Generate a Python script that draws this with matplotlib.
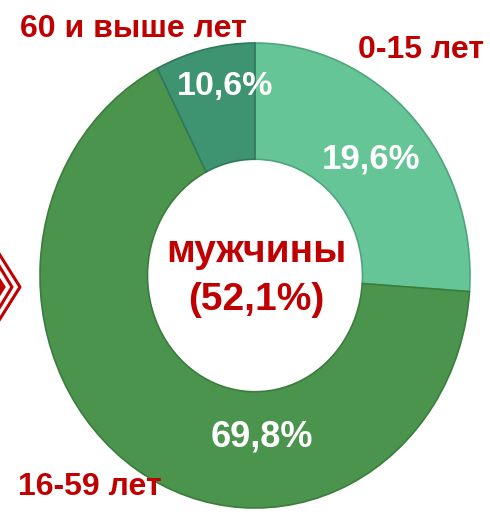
import matplotlib
matplotlib.use("Agg")
import matplotlib.pyplot as plt
from matplotlib.lines import Line2D
from matplotlib.patches import Polygon

plt.rcParams['font.family'] = ['Liberation Sans', 'DejaVu Sans']

# Data
groups = ["0-15 лет", "16-59 лет", "60 и выше лет"]
pct_labels = ["19,6%", "69,8%", "10,6%"]
# sector shares as drawn in the reference picture (angles measured)
drawn_shares = [26.1, 66.4, 7.5]
center_title = "мужчины"
center_value = "(52,1%)"

colors = ["#66C597", "#4B944D", "#3E9470"]
edge_colors = ["#4FA57C", "#3C7C3E", "#2F7A5B"]
red = "#C00000"

W, H = 490, 519
fig = plt.figure(figsize=(W / 100, H / 100), dpi=100)

def fx(px):
    return px / W

def fy(py):
    return 1 - py / H

# donut axes: outer ellipse x 40..470, y 43..508 (pixels)
ax = fig.add_axes([fx(40), fy(508), 430 / W, 465 / H])
wedges, _ = ax.pie(drawn_shares, colors=colors, startangle=90, counterclock=False,
                   radius=1.0, wedgeprops=dict(width=0.5, linewidth=1.2))
for w, ec in zip(wedges, edge_colors):
    w.set_edgecolor(ec)
ax.set_aspect('auto')
ax.set_xlim(-1, 1)
ax.set_ylim(-1, 1)
ax.axis('off')

# percentage labels (white, bold) in data coords of the donut axes
pct_pos = [(0.54, 0.50), (0.03, -0.695), (-0.14, 0.815)]
pct_sizes = [25, 26, 24.5]
for lab, (x, y), s in zip(pct_labels, pct_pos, pct_sizes):
    ax.text(x, y, lab, ha='center', va='center', color='white',
            fontsize=s, fontweight='bold')

# centre text
ax.text(0.005, 0.10, center_title, ha='center', va='center', color=red,
        fontsize=28, fontweight='bold')
ax.text(0.005, -0.105, center_value, ha='center', va='center', color=red,
        fontsize=28, fontweight='bold')

# group labels (dark red)
fig.text(fx(20), fy(29), groups[2], ha='left', va='center', color=red,
         fontsize=23, fontweight='bold')
fig.text(fx(358), fy(50), groups[0], ha='left', va='center', color=red,
         fontsize=23, fontweight='bold')
fig.text(fx(18), fy(487), groups[1], ha='left', va='center', color=red,
         fontsize=23, fontweight='bold')

# partial red chevron on the left edge
chev_outer = [(fx(-2), fy(252)), (fx(20), fy(287)), (fx(-2), fy(322))]
chev_inner = [(fx(-2), fy(264)), (fx(12), fy(287)), (fx(-2), fy(310))]
for pts in (chev_outer, chev_inner):
    xs, ys = zip(*pts)
    fig.add_artist(Line2D(xs, ys, color=red, linewidth=2.2, transform=fig.transFigure))
tri = Polygon([(fx(-2), fy(276)), (fx(5), fy(287)), (fx(-2), fy(298))], closed=True,
              facecolor=red, edgecolor=red, transform=fig.transFigure)
fig.add_artist(tri)

fig.savefig("out.png", dpi=100)
